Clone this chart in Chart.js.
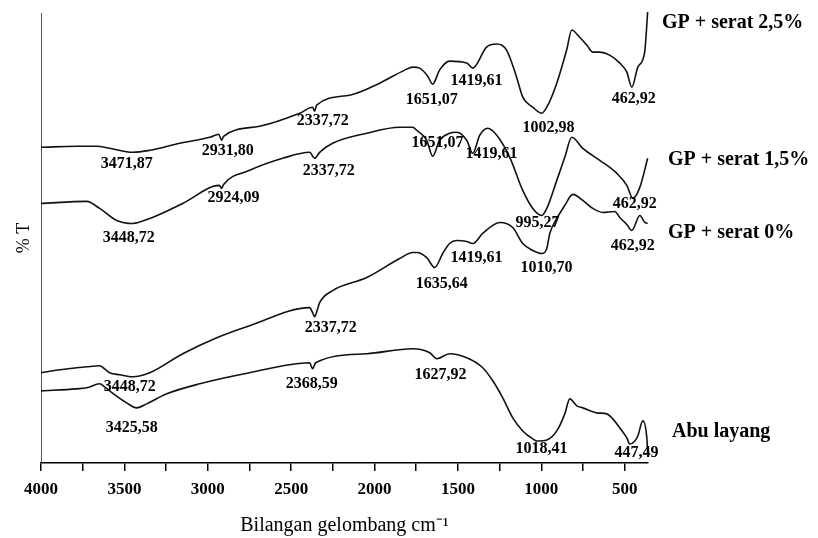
<!DOCTYPE html>
<html>
<head>
<meta charset="utf-8">
<script src="https://cdn.jsdelivr.net/npm/chart.js@4"></script>
<style>
  html, body { margin: 0; background: #fff; }
  #wrap { width: 818px; height: 538px; }
</style>
</head>
<body>
<div id="wrap"><canvas id="ftir" width="818" height="538"></canvas></div>
<script>
// spectra: wavenumber (cm-1) and relative %T (arbitrary offset per curve)
const wn25 = [4000, 3786, 3666, 3588, 3450, 3348, 3168, 2988, 2934, 2917, 2905, 2689, 2449, 2371, 2359, 2347, 2149, 1969, 1819, 1771, 1729, 1681, 1651, 1610, 1550, 1447, 1411, 1328, 1267, 1208, 1148, 1111, 1051, 997, 967, 907, 848, 817, 771, 727, 691, 649, 590, 529, 487, 457, 421, 380, 362];
const t25  = [315, 316, 316, 314, 310, 312, 319, 325, 328, 322, 326, 336, 349, 355, 351, 357, 367, 379, 392, 395, 394, 386, 378, 392, 401, 399, 394, 415, 418, 412, 385, 365, 355, 349, 355, 379, 412, 432, 425, 417, 410, 410, 407, 399, 390, 375, 395, 410, 450];

const wn15 = [4000, 3726, 3648, 3546, 3450, 3348, 3150, 2930, 2917, 2905, 2749, 2551, 2389, 2359, 2329, 2251, 2047, 1849, 1771, 1747, 1687, 1651, 1610, 1550, 1507, 1447, 1411, 1369, 1321, 1267, 1189, 1111, 1051, 997, 967, 907, 859, 817, 751, 649, 547, 487, 451, 409, 362];
const t15  = [259, 261, 254, 242, 239, 244, 259, 277, 274, 278, 292, 304, 310, 304, 310, 319, 329, 335, 335, 332, 322, 306, 322, 329, 330, 322, 309, 327, 334, 327, 305, 272, 254, 247, 254, 282, 305, 325, 314, 302, 289, 277, 264, 275, 304];

const wn0 = [4000, 3888, 3786, 3726, 3648, 3618, 3588, 3528, 3450, 3348, 3150, 2946, 2749, 2389, 2371, 2359, 2341, 2329, 2251, 2047, 1849, 1771, 1747, 1687, 1639, 1591, 1550, 1507, 1447, 1411, 1351, 1249, 1171, 1111, 1051, 997, 967, 949, 907, 859, 811, 751, 691, 631, 559, 529, 487, 457, 409, 379, 362];
const t0  = [90, 93, 95, 96, 97, 94, 90, 88, 86, 90, 109, 125, 137, 155, 150, 146, 154, 160, 172, 185, 204, 210, 210, 205, 195, 209, 219, 222, 221, 219, 229, 240, 235, 219, 212, 209, 214, 229, 244, 257, 268, 262, 254, 250, 251, 245, 238, 232, 247, 240, 239];

const wnAbu = [4000, 3786, 3726, 3648, 3618, 3588, 3486, 3426, 3366, 3246, 3048, 2749, 2389, 2371, 2353, 2047, 1771, 1669, 1627, 1550, 1447, 1351, 1291, 1231, 1171, 1111, 1051, 1027, 967, 907, 859, 829, 787, 751, 667, 607, 571, 529, 487, 469, 439, 421, 391, 367, 362];
const tAbu  = [72, 74, 75, 79, 76, 72, 60, 55, 59, 69, 79, 90, 100, 94, 100, 109, 114, 110, 104, 109, 105, 95, 82, 65, 45, 32, 24, 22, 23, 32, 49, 64, 57, 55, 50, 49, 44, 35, 25, 19, 22, 27, 42, 25, 10];

const seriesNames = ['GP + serat 2,5%', 'GP + serat 1,5%', 'GP + serat 0%', 'Abu layang'];

// x axis ticks
const majorTicks = [4000, 3500, 3000, 2500, 2000, 1500, 1000, 500];
const minorTicks = [3750, 3250, 2750, 2250, 1750, 1250, 750];

// peak labels (text) and where they sit, in [wavenumber, %T]
const peaks25 = ['3471,87', '2931,80', '2337,72', '1651,07', '1419,61', '1002,98', '462,92'];
const peaks15 = ['3448,72', '2924,09', '2337,72', '1651,07', '1419,61', '995,27', '462,92'];
const peaks0 = ['3448,72', '2337,72', '1635,64', '1419,61', '1010,70', '462,92'];
const peaksAbu = ['3425,58', '2368,59', '1627,92', '1018,41', '447,49'];

const peakPos25 = [[3486, 298], [2880, 311], [2311, 341], [1657, 362], [1388, 381], [956, 334], [446, 363]];
const peakPos15 = [[3474, 225], [2845, 265], [2275, 291], [1622, 319], [1298, 308], [1022, 240], [440, 259]];
const peakPos0 = [[3468, 76], [2263, 135], [1597, 179], [1388, 205], [968, 195], [452, 217]];
const peakPosAbu = [[3456, 35], [2377, 79], [1604, 88], [998, 14], [429, 10]];

// series name placement: gap to the right of the plot, and height in %T units
const nameGap = [14, 20, 20, 24];
const nameLevel = [439, 302, 230, 31];

const serif = '"Liberation Serif", "Times New Roman", serif';

function toPoints(wn, t) {
    return wn.map((w, i) => ({ x: w, y: t[i] }));
}

function lineSet(label, wn, t) {
    return {
        label: label,
        data: toPoints(wn, t),
        borderColor: '#111',
        borderWidth: 1.6,
        pointRadius: 0,
        cubicInterpolationMode: 'monotone',
        fill: false,
        clip: false
    };
}

const annotate = {
    id: 'annotate',
    afterDatasetsDraw(chart) {
        const { ctx, chartArea } = chart;
        const x = chart.scales.x, y = chart.scales.y;
        ctx.save();
        ctx.fillStyle = '#000';
        ctx.textAlign = 'center';
        ctx.textBaseline = 'middle';
        ctx.font = 'bold 16px ' + serif;
        const sets = [[peaks25, peakPos25], [peaks15, peakPos15], [peaks0, peakPos0], [peaksAbu, peakPosAbu]];
        sets.forEach(([txt, pos]) => {
            txt.forEach((s, i) => {
                ctx.fillText(s, x.getPixelForValue(pos[i][0]), y.getPixelForValue(pos[i][1]));
            });
        });
        ctx.textAlign = 'left';
        ctx.font = 'bold 20px ' + serif;
        seriesNames.forEach((n, i) => {
            ctx.fillText(n, chartArea.right + nameGap[i], y.getPixelForValue(nameLevel[i]));
        });
        ctx.restore();
    }
};

new Chart(document.getElementById('ftir'), {
    type: 'line',
    data: {
        datasets: [
            lineSet(seriesNames[0], wn25, t25),
            lineSet(seriesNames[1], wn15, t15),
            lineSet(seriesNames[2], wn0, t0),
            lineSet(seriesNames[3], wnAbu, tAbu)
        ]
    },
    options: {
        responsive: false,
        animation: false,
        layout: { padding: { left: 9, right: 170, top: 13, bottom: 0 } },
        plugins: {
            legend: { display: false },
            tooltip: { enabled: false }
        },
        scales: {
            x: {
                type: 'linear',
                reverse: true,
                min: 360,
                max: 4000,
                afterBuildTicks: scale => {
                    scale.ticks = majorTicks.concat(minorTicks)
                        .sort((a, b) => a - b)
                        .map(v => ({ value: v }));
                },
                ticks: {
                    autoSkip: false,
                    maxRotation: 0,
                    padding: 8,
                    color: '#000',
                    font: { family: serif, size: 17, weight: 'bold' },
                    callback: v => majorTicks.includes(v) ? String(v) : ''
                },
                grid: { drawOnChartArea: false, drawTicks: true, tickLength: 8, color: '#000', lineWidth: 1.5 },
                border: { display: true, color: '#000', width: 1.5 },
                title: {
                    display: true,
                    text: 'Bilangan gelombang cm⁻¹',
                    color: '#000',
                    font: { family: serif, size: 20 },
                    padding: { top: 6.6, bottom: 0 }
                }
            },
            y: {
                min: 0,
                max: 449,
                ticks: { display: false },
                grid: { display: false, drawTicks: false },
                border: { display: true, color: '#555', width: 1 },
                title: {
                    display: true,
                    text: '% T',
                    color: '#000',
                    font: { family: serif, size: 18 },
                    padding: { top: 4, bottom: 6.4 }
                }
            }
        }
    },
    plugins: [annotate]
});
</script>
</body>
</html>
